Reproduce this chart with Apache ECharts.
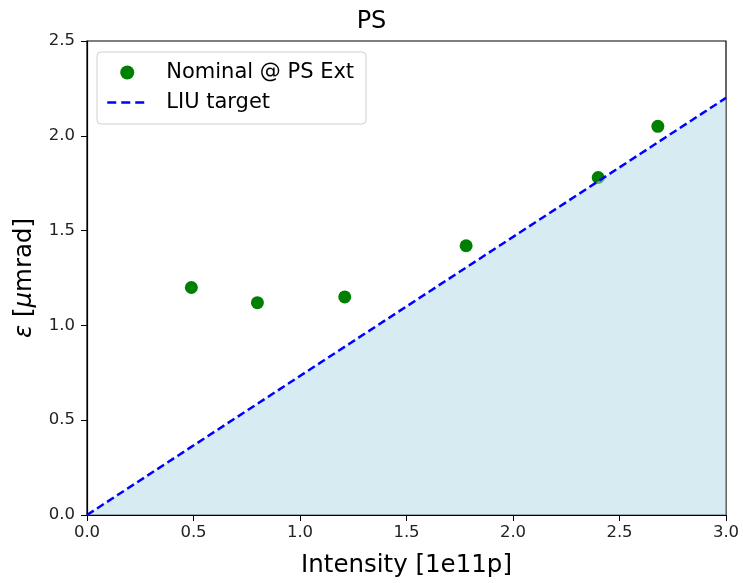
<!DOCTYPE html>
<html><head><meta charset="utf-8">
<script src="https://cdn.jsdelivr.net/npm/echarts@6/dist/echarts.min.js"></script>
<style>html,body{margin:0;padding:0;background:#fff}#c{width:743px;height:583px}</style>
</head><body><div id="c"></div>
<script>
const intensity = [0.49, 0.80, 1.21, 1.78, 2.40, 2.68];
const emittance = [1.20, 1.12, 1.15, 1.42, 1.78, 2.05];
const targetX = [0.0, 3.0];
const targetY = [0.0, 2.2];
const xTicks = [0.0, 0.5, 1.0, 1.5, 2.0, 2.5, 3.0];
const yTicks = [0.0, 0.5, 1.0, 1.5, 2.0, 2.5];

const font = 'DejaVu Sans';
const chart = echarts.init(document.getElementById('c'), null, {renderer: 'canvas'});
chart.setOption({
  animation: false,
  backgroundColor: '#fff',
  title: {text: 'PS', left: 'center', top: 5, textStyle: {fontFamily: font, fontSize: 24, fontWeight: 'normal', color: '#000'}},
  grid: {left: 87, right: 17, top: 41, bottom: 65, show: true, borderColor: '#000', borderWidth: 1.2, backgroundColor: 'transparent'},
  legend: {
    orient: 'vertical', left: 97, top: 52, padding: [10, 12, 11, 9], itemGap: 9,
    itemWidth: 40, itemHeight: 14,
    backgroundColor: '#fff', borderColor: '#d0d0d0', borderWidth: 1, borderRadius: 4,
    textStyle: {fontFamily: font, fontSize: 21, color: '#000', padding: [0, 0, 0, 14]},
    data: [
      {name: 'Nominal @ PS Ext', icon: 'circle', itemStyle: {color: '#008000', opacity: 1}},
      {name: 'LIU target', itemStyle: {opacity: 0}, lineStyle: {color: '#0000ff', width: 2.5, type: [9, 5], opacity: 1}}
    ]
  },
  xAxis: {
    type: 'value', min: 0, max: 3.0, interval: 0.5,
    name: 'Intensity [1e11p]', nameLocation: 'middle', nameGap: 38,
    nameTextStyle: {fontFamily: font, fontSize: 24.5, color: '#000'},
    axisLine: {show: true, onZero: false, lineStyle: {color: '#000', width: 1.2}},
    axisTick: {show: true, length: 6, lineStyle: {color: '#000'}},
    axisLabel: {fontFamily: font, fontSize: 16.5, color: '#222', margin: 9, formatter: v => v.toFixed(1)},
    splitLine: {show: false}
  },
  yAxis: {
    type: 'value', min: 0, max: 2.5, interval: 0.5,
    name: '{i|ε} [{i|μ}mrad]', nameLocation: 'middle', nameGap: 50,
    nameTextStyle: {fontFamily: font, fontSize: 24.5, color: '#000',
      rich: {i: {fontFamily: font, fontSize: 24.5, fontStyle: 'italic', color: '#000'}}},
    axisLine: {show: true, onZero: false, lineStyle: {color: '#000', width: 1.2}},
    axisTick: {show: true, length: 6, lineStyle: {color: '#000'}},
    axisLabel: {fontFamily: font, fontSize: 16.5, color: '#222', margin: 12, formatter: v => v.toFixed(1)},
    splitLine: {show: false}
  },
  series: [
    {
      name: 'Nominal @ PS Ext', type: 'scatter', symbol: 'circle', symbolSize: 13,
      itemStyle: {color: '#008000', opacity: 1}, z: 2,
      data: intensity.map((x, i) => [x, emittance[i]])
    },
    {
      name: 'LIU target', type: 'line', symbol: 'none', z: 3,
      lineStyle: {color: '#0000ff', width: 2.5, type: [8, 4]},
      itemStyle: {color: '#0000ff'},
      areaStyle: {color: '#add8e6', opacity: 0.5, origin: 'start'},
      data: targetX.map((x, i) => [x, targetY[i]])
    }
  ]
});
</script></body></html>
